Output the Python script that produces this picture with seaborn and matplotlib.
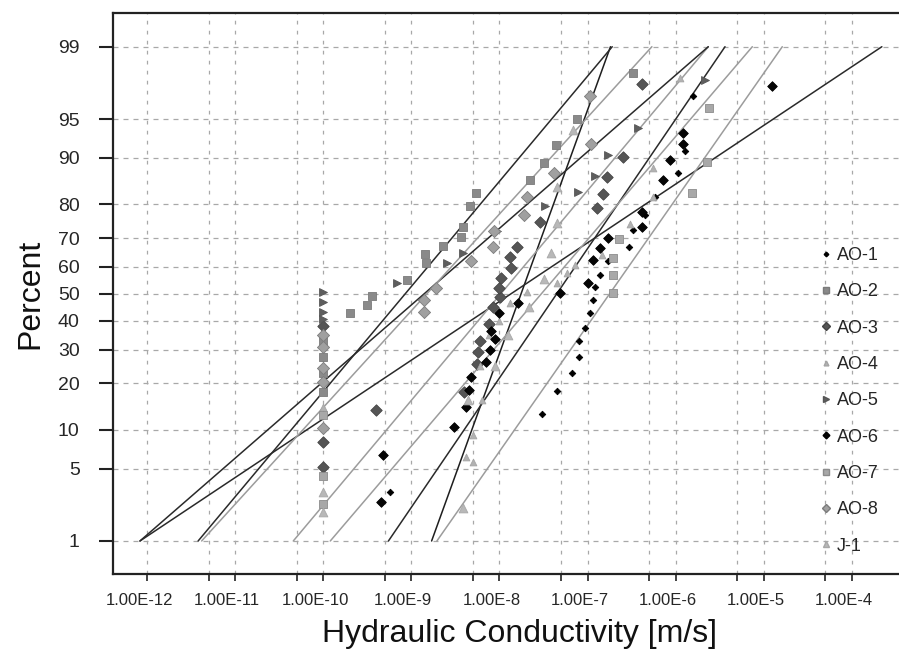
import numpy as np
import pandas as pd
import matplotlib
matplotlib.use("Agg")
import matplotlib.pyplot as plt
from matplotlib.ticker import FixedLocator, FuncFormatter, NullFormatter
from matplotlib.transforms import ScaledTranslation
import seaborn as sns
from statistics import NormalDist

# ---------------- data (log10 of hydraulic conductivity, cumulative percent) ----------------
series_names = ["AO-1", "AO-2", "AO-3", "AO-4", "AO-5", "AO-6", "AO-7", "AO-8", "J-1"]

ao1_logk = [-9.24, -7.52, -7.35, -7.18, -7.10, -7.10, -7.03, -6.97, -6.94, -6.92, -6.86, -6.77, -6.53, -6.49, -6.35, -6.23, -5.97, -5.89, -5.80]
ao1_pct = [3.1, 12.9, 18.1, 22.8, 27.7, 32.9, 37.4, 42.9, 47.8, 52.6, 57.0, 62.0, 67.1, 72.7, 77.0, 82.0, 87.3, 91.0, 96.9]

ao2_logk = [-10, -10, -10, -10, -9.70, -9.50, -9.45, -9.05, -8.83, -8.84, -8.64, -8.44, -8.41, -8.33, -8.27, -7.65, -7.50, -7.36, -7.12, -6.49]
ao2_pct = [17.8, 22.8, 27.7, 33.0, 42.9, 45.9, 49.2, 55.2, 61.5, 64.7, 67.4, 70.4, 73.6, 79.6, 82.9, 85.8, 89.1, 92.0, 95.0, 98.1]

ao3_logk = [-10, -10, -10, -9.40, -8.40, -8.25, -8.24, -8.22, -8.12, -8.07, -7.99, -8.00, -7.98, -7.87, -7.88, -7.80, -7.54, -6.89, -6.82, -6.78, -6.60, -6.38]
ao3_pct = [5.2, 8.2, 38.0, 13.7, 17.8, 25.5, 29.2, 32.9, 39.0, 45.1, 48.9, 52.2, 56.0, 59.7, 63.6, 67.1, 75.1, 79.1, 82.7, 86.5, 90.1, 97.6]

ao4_logk = [-10, -8.30, -8.38, -8.30, -8.20, -8.22, -8.12, -8.00, -7.88, -7.69, -7.35, -7.23, -7.14, -6.84, -6.52, -6.26, -6.26, -5.95]
ao4_pct = [14.4, 5.7, 6.2, 9.2, 15.9, 25.0, 35.0, 40.0, 46.6, 50.8, 54.1, 57.8, 60.8, 64.3, 74.5, 81.9, 88.2, 97.9]

ao5_logk = [-10, -10, -10, -10, -9.16, -8.59, -8.41, -8.03, -7.48, -7.11, -6.92, -6.77, -6.43, -5.67]
ao5_pct = [40.5, 43.3, 47.0, 50.8, 54.1, 61.5, 65.0, 72.3, 79.6, 83.1, 86.7, 90.5, 94.1, 97.8]

ao6_logk = [-9.34, -9.32, -8.52, -8.38, -8.35, -8.32, -8.15, -8.11, -8.05, -8.10, -8.01, -7.79, -7.31, -6.99, -6.94, -6.86, -6.77, -6.38, -6.38, -6.14, -6.06, -5.92, -5.92, -4.91]
ao6_pct = [2.5, 6.5, 10.5, 14.4, 18.3, 21.7, 26.1, 29.9, 33.6, 36.4, 42.9, 46.6, 50.4, 54.1, 62.6, 66.8, 70.1, 73.6, 78.0, 85.8, 89.7, 92.1, 93.5, 97.5]

ao7_logk = [-10, -10, -10, -6.71, -6.71, -6.71, -6.64, -5.81, -5.65, -5.62]
ao7_pct = [2.4, 4.3, 12.7, 50.4, 57.1, 63.3, 69.8, 82.9, 89.3, 96.0]

ao8_logk = [-10, -10, -10, -10, -10, -8.86, -8.86, -8.72, -8.32, -8.07, -8.06, -7.72, -7.69, -7.38, -6.96, -6.97]
ao8_pct = [10.4, 20.3, 24.3, 31.0, 35.0, 43.3, 47.8, 52.2, 62.2, 67.1, 72.3, 77.2, 81.9, 87.3, 92.1, 96.9]

j1_logk = [-10, -10, -8.41, -8.36, -8.05, -7.90, -7.66, -7.50, -7.41, -7.35, -7.35, -7.16]
j1_pct = [2.0, 3.1, 2.2, 15.9, 25.0, 35.0, 45.1, 55.6, 65.0, 74.8, 84.3, 93.9]

# fitted log-normal lines: log10 K at 1 % and at 99 %
line_series = ["AO-1", "AO-2", "AO-3", "AO-4", "AO-5", "AO-6", "AO-7", "AO-8", "J-1"]
line_logk_p1 = [-8.77, -12.08, -11.42, -10.34, -12.08, -9.26, -8.71, -11.38, -9.92]
line_logk_p99 = [-6.74, -3.66, -6.72, -5.63, -5.63, -5.44, -4.79, -6.27, -5.13]
line_pct = [1, 99]

x_tick_exponents = [-12, -11, -10, -9, -8, -7, -6, -5, -4]
y_ticks = [1, 5, 10, 20, 30, 40, 50, 60, 70, 80, 90, 95, 99]

# ---------------- styles ----------------
point_logk = [ao1_logk, ao2_logk, ao3_logk, ao4_logk, ao5_logk, ao6_logk, ao7_logk, ao8_logk, j1_logk]
point_pct = [ao1_pct, ao2_pct, ao3_pct, ao4_pct, ao5_pct, ao6_pct, ao7_pct, ao8_pct, j1_pct]
style = {
    "AO-1": dict(marker="D", color="#000000", ec="#000000", s=11),
    "AO-2": dict(marker="s", color="#8a8a8a", ec="#7a7a7a", s=30),
    "AO-3": dict(marker="D", color="#555555", ec="#444444", s=34),
    "AO-4": dict(marker="^", color="#b2b2b2", ec="#a5a5a5", s=24),
    "AO-5": dict(marker=">", color="#5e5e5e", ec="#555555", s=32),
    "AO-6": dict(marker="D", color="#050505", ec="#000000", s=24),
    "AO-7": dict(marker="s", color="#a8a8a8", ec="#8c8c8c", s=32),
    "AO-8": dict(marker="D", color="#a0a0a0", ec="#7c7c7c", s=38),
    "J-1": dict(marker="^", color="#b8b8b8", ec="#a8a8a8", s=40),
}
line_color = {"AO-1": "#1e1e1e", "AO-2": "#2a2a2a", "AO-3": "#2a2a2a", "AO-4": "#9c9c9c",
              "AO-5": "#2a2a2a", "AO-6": "#2a2a2a", "AO-7": "#9c9c9c", "AO-8": "#9c9c9c", "J-1": "#9c9c9c"}

sns.set_style("white")
plt.rcParams["font.family"] = ["Liberation Sans", "DejaVu Sans"]

fig = plt.figure(figsize=(8.99, 6.51), dpi=100)
ax = fig.add_axes([113 / 899, 77 / 651, 790 / 899, 561 / 651])

nd = NormalDist()
def p_to_z(p):
    p = np.clip(np.asarray(p, dtype=float), 1e-6, 100 - 1e-6)
    return np.vectorize(lambda v: nd.inv_cdf(v / 100.0), otypes=[float])(p)
def z_to_p(z):
    z = np.asarray(z, dtype=float)
    return np.vectorize(lambda v: nd.cdf(v) * 100.0, otypes=[float])(z)

ax.set_xscale("log")
ax.set_yscale("function", functions=(p_to_z, z_to_p))

# fitted lines
for name, a, b in zip(line_series, line_logk_p1, line_logk_p99):
    sns.lineplot(x=[10.0 ** a, 10.0 ** b], y=line_pct, ax=ax, color=line_color[name],
                 lw=1.1, sort=False, estimator=None, legend=False, zorder=2)

# data points
handles = []
for name, lk, pc in zip(series_names, point_logk, point_pct):
    st = style[name]
    df = pd.DataFrame({"K": 10.0 ** np.asarray(lk), "P": pc})
    sns.scatterplot(data=df, x="K", y="P", ax=ax, marker=st["marker"], color=st["color"],
                    edgecolor=st["ec"], linewidth=0.6, s=st["s"], zorder=3, legend=False)
    handles.append(plt.Line2D([], [], ls="none", marker=st["marker"], markerfacecolor=st["color"],
                              markeredgecolor=st["ec"], markersize=np.sqrt(st["s"]) * 0.7))

ax.set_xlim(10 ** -12.386, 10 ** -3.42)
ax.set_ylim(0.418, 99.59)

ax.xaxis.set_major_locator(FixedLocator([10.0 ** e for e in x_tick_exponents]))
ax.xaxis.set_minor_locator(FixedLocator([5 * 10.0 ** e for e in x_tick_exponents[:-1]] + [5e-4]))
ax.xaxis.set_major_formatter(FuncFormatter(lambda v, pos: f"{v:.2E}".replace("E-0", "E-")))
ax.xaxis.set_minor_formatter(NullFormatter())
ax.set_yticks(y_ticks)
ax.set_yticklabels([str(v) for v in y_ticks])
ax.yaxis.set_minor_locator(FixedLocator([]))

ax.grid(True, which="both", axis="x", ls=(0, (3, 5)), color="#a8a8a8", lw=0.9)
ax.grid(True, which="major", axis="y", ls=(0, (4, 4)), color="#a8a8a8", lw=0.9)
ax.set_axisbelow(True)

ax.tick_params(axis="y", which="major", direction="out", length=10, width=1.5, pad=14,
               labelsize=14, color="#222222", left=True)
ax.tick_params(axis="x", which="both", direction="out", length=5, width=1.2, pad=9,
               labelsize=12, color="#222222", bottom=True)
shift = ScaledTranslation(-8 / 100, 0, fig.dpi_scale_trans)
for lab in ax.get_xticklabels():
    lab.set_transform(lab.get_transform() + shift)

for sp in ["left", "top", "bottom"]:
    ax.spines[sp].set_color("#222222")
    ax.spines[sp].set_linewidth(1.6)
ax.spines["right"].set_visible(False)

ax.set_xlabel("Hydraulic Conductivity [m/s]", fontsize=23, color="#111111")
ax.xaxis.set_label_coords(0.515, -0.080)
ax.set_ylabel("Percent", fontsize=23, color="#111111")
ax.yaxis.set_label_coords(-0.086, 0.5)

leg = ax.legend(handles, series_names, loc="upper left", bbox_to_anchor=(808 / 899, 1 - 238 / 651),
                bbox_transform=fig.transFigure, frameon=False, fontsize=13,
                labelspacing=1.07, handletextpad=0.1, handlelength=1.0, borderpad=0)

fig.savefig("out.png", dpi=100)
